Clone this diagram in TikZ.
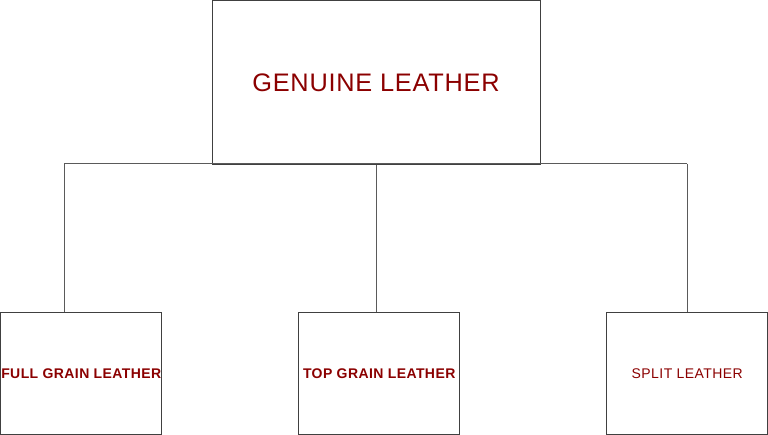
\documentclass[tikz,border=0pt]{standalone}
\usepackage{fontspec}
\setmainfont{Liberation Sans}[LetterSpace=3]
\usetikzlibrary{positioning}
\definecolor{leatherred}{RGB}{139,0,0}
\definecolor{boxgray}{RGB}{64,64,64}
\definecolor{linegray}{RGB}{90,90,90}

\begin{document}
\begin{tikzpicture}[x=0.75pt,y=-0.75pt,
	box/.style={draw=boxgray, line width=0.75pt, inner sep=0pt, anchor=north west},
	lbl/.style={text=leatherred, font=\fontsize{10.5}{12}\selectfont},
	wire/.style={draw=linegray, line width=0.75pt}]
	
	\useasboundingbox (0,0) rectangle (768,435);
	
	% top box
	\node[box, minimum width=328*0.75pt, minimum height=163*0.75pt, text=leatherred, font=\fontsize{19}{22}\selectfont] (genuine) at (211.5,0.5) {GENUINE LEATHER};
	
	% lower boxes
	\node[box, minimum width=161*0.75pt, minimum height=122*0.75pt, lbl, font=\bfseries\fontsize{10.5}{12}\selectfont] (fullgrain) at (0.3,312) {FULL GRAIN LEATHER};
	\node[box, minimum width=161*0.75pt, minimum height=122*0.75pt, lbl, font=\bfseries\fontsize{10.5}{12}\selectfont] (topgrain) at (298.2,312) {TOP GRAIN LEATHER};
	\node[box, minimum width=161*0.75pt, minimum height=122*0.75pt, lbl] (split) at (606.2,312) {SPLIT LEATHER};
	
	% connectors
	\coordinate (jl) at (64,163.5);
	\coordinate (jr) at (687,163.5);
	\draw[wire] (jl) -- (jr);
	\draw[wire] (jl) -- (jl |- fullgrain.north);
	\draw[wire] (genuine.south) -- (genuine.south |- topgrain.north);
	\draw[wire] (jr) -- (jr |- split.north);
\end{tikzpicture}
\end{document}
